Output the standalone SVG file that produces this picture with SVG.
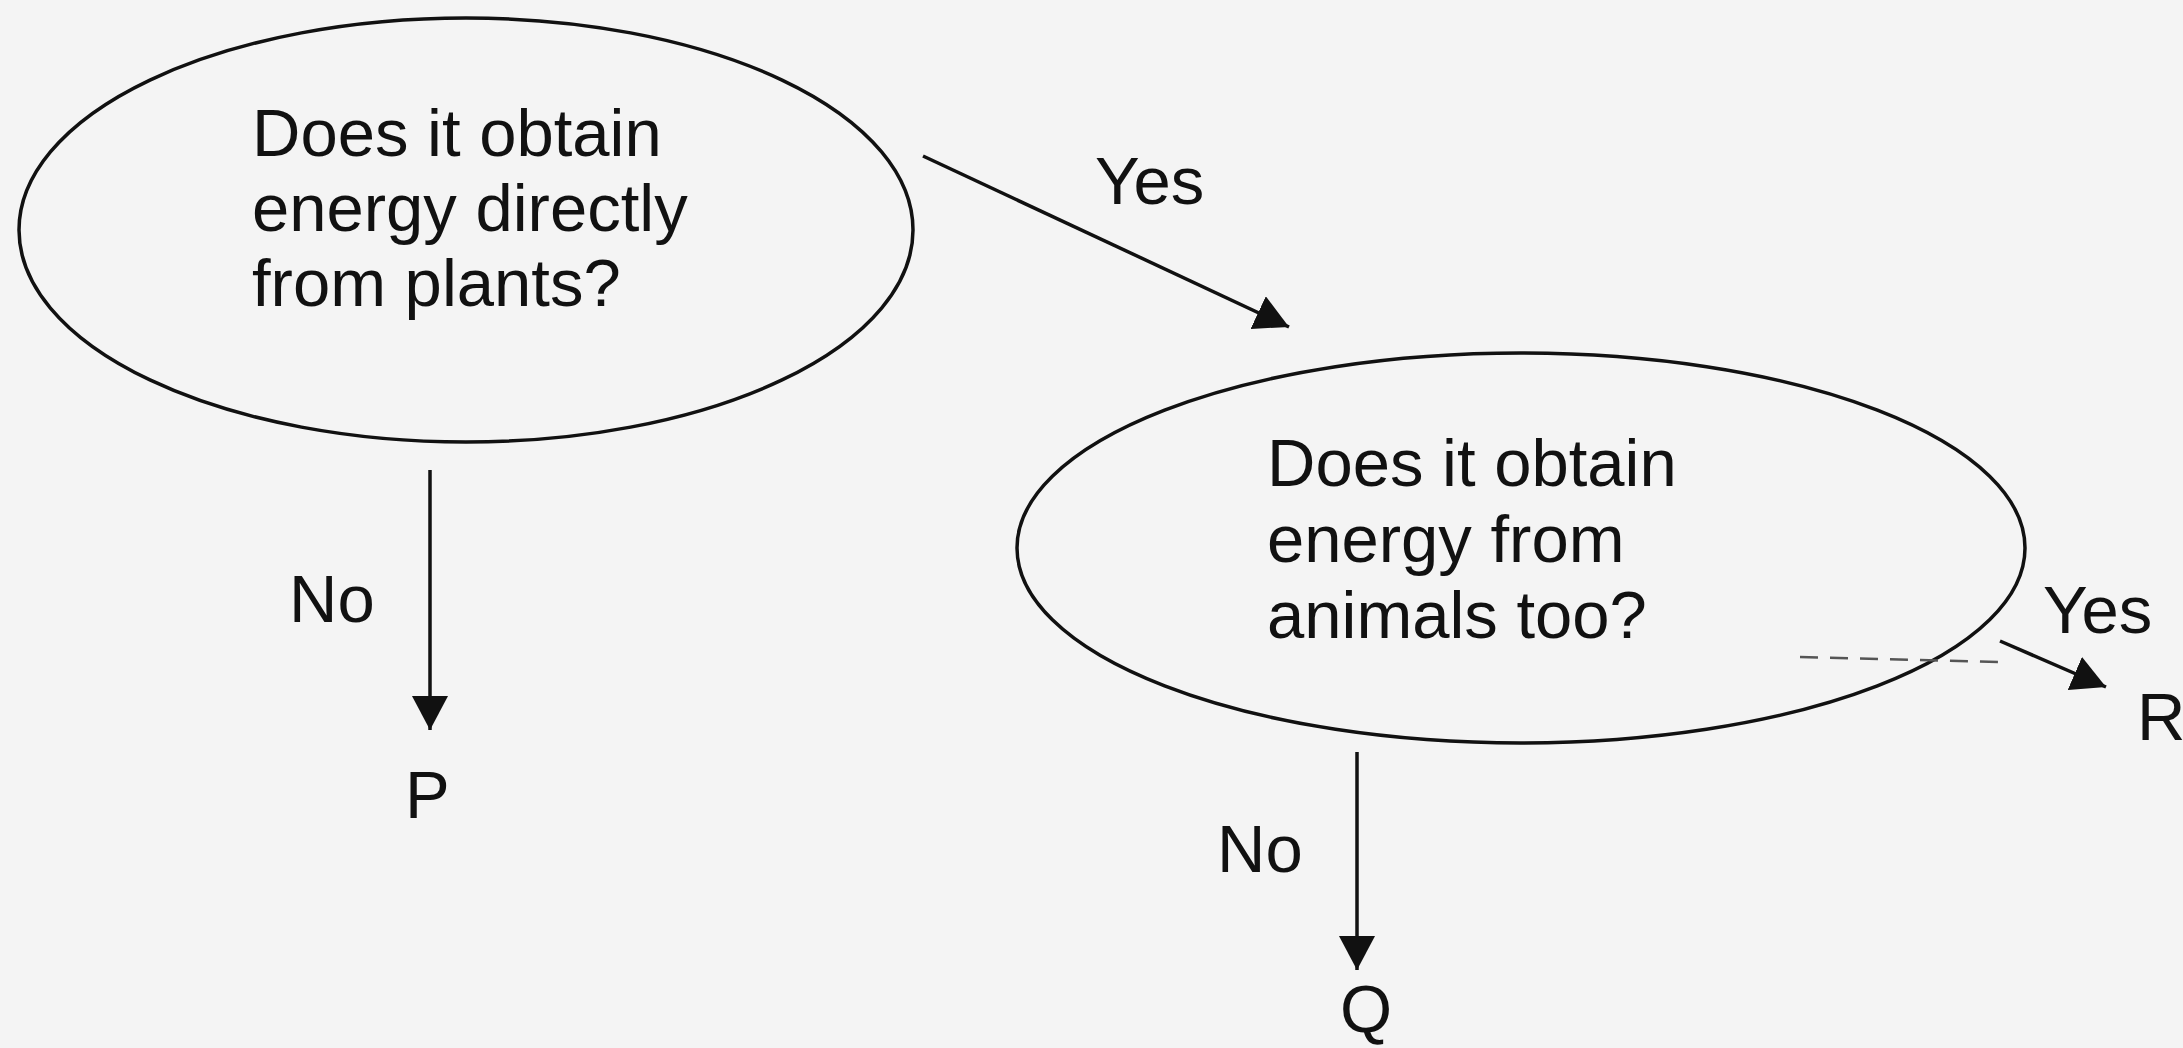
<svg xmlns="http://www.w3.org/2000/svg" width="2183" height="1048" viewBox="0 0 2183 1048">
<style>
.node{fill:none;stroke:#111;stroke-width:3.5}
.t{font-family:"Liberation Sans",Arial,sans-serif;font-size:67px;fill:#111}
.c{stroke:#111;stroke-width:3.5;fill:none}
</style>
<defs>
<marker id="ah" viewBox="0 0 34 36" refX="34" refY="18" markerWidth="34" markerHeight="36" markerUnits="userSpaceOnUse" orient="auto">
<path d="M0,0 L34,18 L0,36 Z" fill="#111"/>
</marker>
</defs>
<rect width="2183" height="1048" fill="#f4f4f4"/>
<g id="node-plants">
<ellipse class="node" cx="466" cy="230" rx="447" ry="212"/>
<text class="t" x="252" y="156">Does it obtain</text>
<text class="t" x="252" y="231">energy directly</text>
<text class="t" x="252" y="306">from plants?</text>
</g>
<g id="node-animals">
<ellipse class="node" cx="1521" cy="548" rx="504" ry="195"/>
<text class="t" x="1267" y="486">Does it obtain</text>
<text class="t" x="1267" y="562">energy from</text>
<text class="t" x="1267" y="638">animals too?</text>
</g>
<g id="node-P"><text class="t" x="405" y="818">P</text></g>
<g id="node-Q"><text class="t" x="1340" y="1032">Q</text></g>
<g id="node-R"><text class="t" x="2137" y="740">R</text></g>
<g id="connectors">
<line class="c" x1="923" y1="156" x2="1289" y2="327" marker-end="url(#ah)"/>
<text class="t" x="1095" y="204">Yes</text>
<line class="c" x1="430" y1="470" x2="430" y2="730" marker-end="url(#ah)"/>
<text class="t" x="289" y="622">No</text>
<line class="c" x1="1357" y1="752" x2="1357" y2="970" marker-end="url(#ah)"/>
<text class="t" x="1217" y="872">No</text>
<line x1="1800" y1="657" x2="1998" y2="662" stroke="#555" stroke-width="2.5" stroke-dasharray="18,12"/>
<line class="c" x1="2000" y1="641" x2="2106" y2="687" marker-end="url(#ah)"/>
<text class="t" x="2043" y="633">Yes</text>
</g>
</svg>
